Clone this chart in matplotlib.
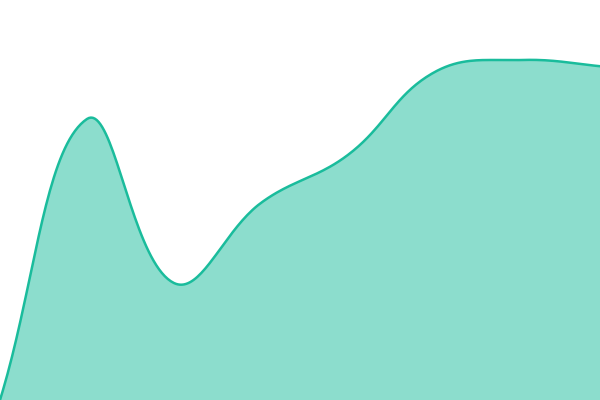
import numpy as np
import matplotlib
matplotlib.use("Agg")
import matplotlib.pyplot as plt

# values, one per evenly spaced step
steps = [0, 1, 2, 3, 4, 5, 6, 7]
values = [0, 281, 117, 197, 245, 328, 340, 333]

line_color = "#1abc9c"
x_max = 6.9


def spline(x, y, tension=0.4, n=40):
    # chart.js style bezier spline, done in pixel units
    px = np.asarray(x, float) * 600 / x_max
    py = np.asarray(y, float)
    m = len(px)
    c1 = np.zeros((m, 2))
    c2 = np.zeros((m, 2))
    for i in range(m):
        prev = (px[max(i - 1, 0)], py[max(i - 1, 0)])
        nxt = (px[min(i + 1, m - 1)], py[min(i + 1, m - 1)])
        d01 = np.hypot(px[i] - prev[0], py[i] - prev[1])
        d12 = np.hypot(nxt[0] - px[i], nxt[1] - py[i])
        tot = d01 + d12 if d01 + d12 > 0 else 1
        fa = tension * d01 / tot
        fb = tension * d12 / tot
        c1[i] = (px[i] - fa * (nxt[0] - prev[0]), py[i] - fa * (nxt[1] - prev[1]))
        c2[i] = (px[i] + fb * (nxt[0] - prev[0]), py[i] + fb * (nxt[1] - prev[1]))
    xs, ys = [], []
    u = np.linspace(0, 1, n, endpoint=False)[:, None]
    for i in range(m - 1):
        p0 = np.array([px[i], py[i]])
        p3 = np.array([px[i + 1], py[i + 1]])
        b = (1 - u)**3 * p0 + 3 * (1 - u)**2 * u * c2[i] + 3 * (1 - u) * u**2 * c1[i + 1] + u**3 * p3
        xs.append(b[:, 0])
        ys.append(b[:, 1])
    xs.append([px[-1]])
    ys.append([py[-1]])
    return np.concatenate(xs) * x_max / 600, np.concatenate(ys)


xs, ys = spline(steps, values)

fig = plt.figure(figsize=(6, 4), dpi=100)
ax = fig.add_axes([0, 0, 1, 1])
ax.fill_between(xs, ys, 0, color=line_color, alpha=0.5, linewidth=0)
ax.plot(xs, ys, color=line_color, linewidth=1.8)
ax.set_xlim(0, x_max)
ax.set_ylim(0, 400)
ax.axis("off")

fig.savefig("out.png", dpi=100)
